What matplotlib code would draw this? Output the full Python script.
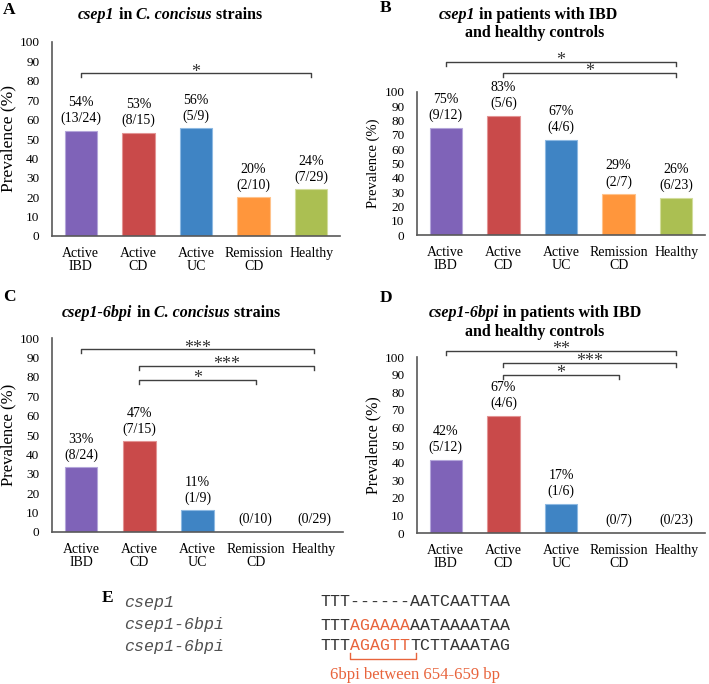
"""csep1 / csep1-6bpi prevalence panels (A-D) with sequence alignment (E)."""

import matplotlib

matplotlib.use("Agg")
import matplotlib.pyplot as plt
from matplotlib.transforms import ScaledTranslation


W, H = 709, 684
SERIF = "Liberation Serif"
MONO = "Liberation Mono"
plt.rcParams["font.family"] = [SERIF, "DejaVu Serif"]

CATEGORIES = ["Active\nIBD", "Active\nCD", "Active\nUC", "Remission\nCD", "Healthy"]
COLORS = ["#7F63B8", "#C94A4A", "#3F84C4", "#FF963C", "#ABBF52"]
EDGES = ["#B4A6DA", "#E39494", "#8DB9E2", "#FFC38C", "#D2DD9C"]

A_VALUES = [54.2, 53.3, 55.6, 20.0, 24.1]
A_PERCENT = ["54%", "53%", "56%", "20%", "24%"]
A_COUNTS = ["(13/24)", "(8/15)", "(5/9)", "(2/10)", "(7/29)"]

B_VALUES = [75.0, 83.3, 66.7, 28.6, 26.1]
B_PERCENT = ["75%", "83%", "67%", "29%", "26%"]
B_COUNTS = ["(9/12)", "(5/6)", "(4/6)", "(2/7)", "(6/23)"]

C_VALUES = [33.3, 46.7, 11.1, 0.0, 0.0]
C_PERCENT = ["33%", "47%", "11%", "", ""]
C_COUNTS = ["(8/24)", "(7/15)", "(1/9)", "(0/10)", "(0/29)"]

D_VALUES = [41.7, 66.7, 16.7, 0.0, 0.0]
D_PERCENT = ["42%", "67%", "17%", "", ""]
D_COUNTS = ["(5/12)", "(4/6)", "(1/6)", "(0/7)", "(0/23)"]

# significance comparisons: (from, to, label)
A_SIG = [(0, 4, "*")]
B_SIG = [(0, 4, "*"), (1, 4, "*")]
C_SIG = [(0, 4, "***"), (1, 4, "***"), (1, 3, "*")]
D_SIG = [(0, 4, "**"), (1, 4, "***"), (1, 3, "*")]

SEQ_NAMES = ["csep1", "csep1-6bpi", "csep1-6bpi"]
SEQ_PARTS = [
    [("TTT------AATCAATTAA", "#333333")],
    [("TTT", "#333333"), ("AGAAAA", "#E8643C"), ("AATAAAATAA", "#333333")],
    [("TTT", "#333333"), ("AGAGTT", "#E8643C"), ("TCTTAAATAG", "#333333")],
]


def fx(x):
    return x / W


def fy(y):
    return 1 - y / H


def add_axes(fig, left, top, right, bottom):
    return fig.add_axes([fx(left), fy(bottom), fx(right - left), (bottom - top) / H])


def place_parts(fig, x, y, parts, size):
    """Draw a line of mixed-style text centred on pixel x."""
    renderer = fig.canvas.get_renderer()
    items = []
    for text, style in parts:
        t = fig.text(0, 0, text, fontsize=size, va="center", **style)
        items.append(t)
    widths = [t.get_window_extent(renderer).width for t in items]
    start = x - sum(widths) / 2
    for t, w in zip(items, widths):
        t.set_position((fx(start), fy(y)))
        start += w


def draw_panel(ax, values, percent, counts, sig, levels, drop, ylabel_size):
    xs = range(len(values))
    ax.bar(xs, values, width=0.56, color=COLORS, edgecolor=EDGES, linewidth=0.8, zorder=2)
    for i, (v, p, c) in enumerate(zip(values, percent, counts)):
        label = f"{p}\n{c}" if p else c
        ax.annotate(label, (i, v), xytext=(0, 4), textcoords="offset points",
                    ha="center", va="bottom", fontsize=10, linespacing=1.25)
    for (i, j, star), lvl in zip(sig, levels):
        ax.plot([i, i, j, j], [lvl - drop, lvl, lvl, lvl - drop], color="#404040",
                lw=1.0, clip_on=False)
        ax.annotate(star, ((i + j) / 2, lvl), xytext=(0, -2.5),
                    textcoords="offset points", ha="center", va="baseline",
                    fontsize=13, color="#333333", annotation_clip=False)
    ax.set_xlim(-0.5, 4.5)
    ax.set_ylim(0, 100)
    ax.set_yticks(range(0, 101, 10))
    ax.set_xticks(list(xs))
    ax.set_xticklabels(CATEGORIES, fontsize=10, linespacing=1.0)
    ax.tick_params(axis="y", length=0, pad=9, labelsize=9.5)
    ax.tick_params(axis="x", length=0, pad=8)
    for side in ("top", "right"):
        ax.spines[side].set_visible(False)
    for side in ("left", "bottom"):
        ax.spines[side].set_color("#595959")
        ax.spines[side].set_linewidth(1.2)
    width_px = ax.get_position().width * W
    ax.text(-44 / width_px, 0.5, "Prevalence (%)", transform=ax.transAxes,
            rotation=90, ha="center", va="center", fontsize=ylabel_size)


def main():
    fig = plt.figure(figsize=(W / 100, H / 100), dpi=100)
    bi = {"weight": "bold", "style": "italic"}
    b = {"weight": "bold"}

    ax_a = add_axes(fig, 52, 42, 340, 236)
    draw_panel(ax_a, A_VALUES, A_PERCENT, A_COUNTS, A_SIG, [84], 2.0, 12.5)
    ax_b = add_axes(fig, 417, 92, 705, 235)
    draw_panel(ax_b, B_VALUES, B_PERCENT, B_COUNTS, B_SIG, [121, 113.5], 3.0, 10.5)
    ax_c = add_axes(fig, 52, 338, 343, 532)
    draw_panel(ax_c, C_VALUES, C_PERCENT, C_COUNTS, C_SIG, [94.3, 85.6, 78.4], 2.0, 12)
    ax_d = add_axes(fig, 417, 357, 705, 533)
    draw_panel(ax_d, D_VALUES, D_PERCENT, D_COUNTS, D_SIG, [103.4, 96.8, 89.8], 2.3, 11.5)

    # titles
    place_parts(fig, 170, 15, [("csep1", bi), (" in", b), (" C. concisus", bi), (" strains", b)], 11.5)
    place_parts(fig, 528, 15, [("csep1", bi), (" in patients with IBD", b)], 11.5)
    place_parts(fig, 535, 33, [("and healthy controls", b)], 11.5)
    place_parts(fig, 171, 313, [("csep1-6bpi", bi), (" in", b), (" C. concisus", bi), (" strains", b)], 11.5)
    place_parts(fig, 535, 313, [("csep1-6bpi", bi), (" in patients with IBD", b)], 11.5)
    place_parts(fig, 535, 332, [("and healthy controls", b)], 11.5)

    for letter, x, y in (("A", 9, 10), ("B", 386, 8), ("C", 9, 297), ("D", 386, 298), ("E", 108, 598)):
        fig.text(fx(x), fy(y), letter, fontsize=12.5, weight="bold",
                 ha="center", va="center")

    # panel E: alignment
    rows_y = [602, 625, 646]
    char_pt = 0.6 * 12
    for name, parts, y in zip(SEQ_NAMES, SEQ_PARTS, rows_y):
        fig.text(fx(124), fy(y), name, fontsize=12, family=MONO, style="italic",
                 color="#505050", va="center")
        offset = 0
        for seq, color in parts:
            shift = ScaledTranslation(offset / 72, 0, fig.dpi_scale_trans)
            fig.text(fx(320), fy(y), seq, fontsize=12, family=MONO, color=color,
                     va="center", transform=fig.transFigure + shift)
            offset += len(seq) * char_pt
    orange = "#E8643C"
    fig.add_artist(plt.Line2D([fx(350), fx(350), fx(416), fx(416)],
                              [fy(653), fy(659), fy(659), fy(653)],
                              color=orange, lw=1.0, transform=fig.transFigure))
    fig.text(fx(415), fy(675), "6bpi between 654-659 bp", fontsize=12,
             color=orange, ha="center", va="center")

    fig.savefig("out.png", dpi=100)
    plt.close(fig)


if __name__ == "__main__":
    main()
